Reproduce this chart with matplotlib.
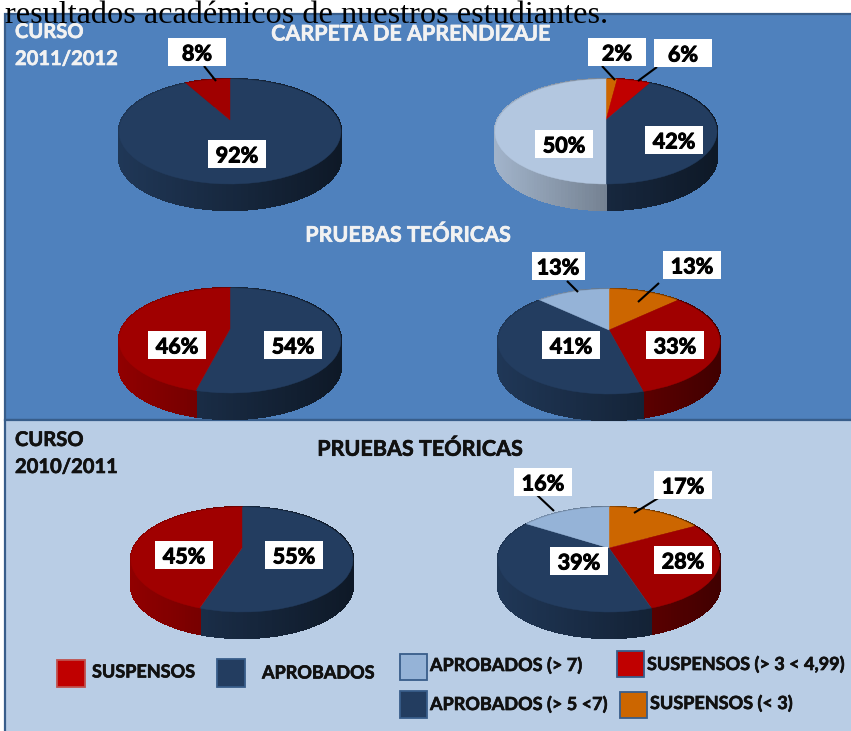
import numpy as np
import matplotlib
matplotlib.use("Agg")
import matplotlib.pyplot as plt
import matplotlib.patheffects as pe
from matplotlib.collections import PolyCollection
from matplotlib.colors import to_rgb
from matplotlib.patches import Rectangle
from matplotlib.transforms import Transform

# ---- data ----
p1_values = [92, 8]
p1_keys = ["navy", "red_dark"]
p2_values = [2, 6, 42, 50]
p2_keys = ["orange", "red", "navy", "pale"]
p3_values = [54, 46]
p3_keys = ["navy", "red_dark"]
p4_values = [13, 33, 41, 13]
p4_keys = ["orange", "red_dark", "navy", "light"]
p5_values = [55, 45]
p5_keys = ["navy", "red_dark"]
p6_values = [17, 28, 39, 16]
p6_keys = ["orange", "red_dark", "navy", "light"]

# ---- style / layout ----
COL = {"navy": "#233d60", "red_dark": "#a00000", "red": "#c00000",
       "orange": "#cc6600", "pale": "#b3c7e0", "light": "#95b3d7"}
FONT = "Lato"
W, H = 851, 731
RX, TOP, BOTTOM, DEPTH = 111.0, 41.0, 64.0, 26.0
K = (BOTTOM - TOP) / (BOTTOM + TOP)
B = TOP * (1 + K)
A = RX * np.sqrt(1 - K ** 2)


class Tilt(Transform):
    """Unit-circle pie -> tilted disc seen in perspective, in pixel coordinates."""
    input_dims = output_dims = 2

    def __init__(self, cx, cy):
        super().__init__()
        self.cx, self.cy = cx, cy

    def transform_non_affine(self, xy):
        xy = np.asarray(xy, float)
        w = 1 + K * xy[:, 1]
        return np.column_stack((self.cx + A * xy[:, 0] / w, self.cy - B * xy[:, 1] / w))


fig = plt.figure(figsize=(W / 100, H / 100), dpi=100, facecolor="white")
ax = fig.add_axes([0, 0, 1, 1])


def draw_pie(values, keys, cx, cy):
    colors = [COL[k] for k in keys]
    wedges, _ = ax.pie(values, colors=colors, startangle=90, counterclock=False, radius=1)
    tilt = Tilt(cx, cy)
    edges = np.cumsum([0] + list(values)) / sum(values) * 2 * np.pi
    polys, faces = [], []
    for i, key in enumerate(keys):
        n = max(3, int((edges[i + 1] - edges[i]) / np.radians(1.5)))
        ang = np.linspace(edges[i], edges[i + 1], n + 1)
        rim = tilt.transform_non_affine(np.column_stack((np.sin(ang), np.cos(ang))))
        base = np.asarray(to_rgb(COL[key]))
        for j in range(n):
            a, b = rim[j], rim[j + 1]
            polys.append([a, b, b + [0, DEPTH], a + [0, DEPTH]])
            t = (0.5 * (a[0] + b[0]) - cx + RX) / (2 * RX)
            faces.append(np.clip(base * (0.9 - 0.5 * t), 0, 1))
    ax.add_collection(PolyCollection(polys, facecolors=faces, edgecolors=faces,
                                     linewidths=1.0, antialiaseds=False, zorder=2))
    for wedge, c in zip(wedges, colors):
        wedge.set_transform(tilt + ax.transData)
        wedge.set(zorder=3, edgecolor=c, linewidth=0.3)


def heavy(color, width=0.45):
    return [pe.withStroke(linewidth=width, foreground=color)]


def tag(text, x, y, w=58, h=28):
    ax.add_patch(Rectangle((x - w / 2, y - h / 2), w, h, fc="white", ec="none", zorder=5))
    ax.text(x, y, text, ha="center", va="center_baseline", fontsize=15.5,
            fontweight="bold", family=FONT, color="black", zorder=6,
            path_effects=heavy("black", 0.7))


def leader(x0, y0, x1, y1):
    ax.plot([x0, x1], [y0, y1], color="black", lw=1.5, zorder=4, solid_capstyle="butt")


# panels
ax.add_patch(Rectangle((5, 14), W, 406, fc="#4f81bd", ec="#385d8a", lw=1.6, zorder=1))
ax.add_patch(Rectangle((5, 420), W, 320, fc="#b9cde5", ec="#385d8a", lw=1.6, zorder=1))

# pies
draw_pie(p1_values, p1_keys, 230, 120)
draw_pie(p2_values, p2_keys, 606, 120)
draw_pie(p3_values, p3_keys, 230, 329)
draw_pie(p4_values, p4_keys, 609, 330)
draw_pie(p5_values, p5_keys, 242, 548)
draw_pie(p6_values, p6_keys, 609, 548)

# leaders
leader(204, 66, 216, 81)
leader(602, 66, 615, 80)
leader(657, 67, 638, 81)
leader(567, 281, 578, 292)
leader(659, 283, 638, 302)
leader(537, 495, 554, 511)
leader(660, 497, 634, 513)

# value tags
tag(f"{p1_values[1]}%", 197, 52)
tag(f"{p1_values[0]}%", 237, 154)
tag(f"{p2_values[0]}%", 617, 52)
tag(f"{p2_values[1]}%", 683, 53)
tag(f"{p2_values[2]}%", 674, 140)
tag(f"{p2_values[3]}%", 564, 144)
tag(f"{p3_values[1]}%", 177, 345)
tag(f"{p3_values[0]}%", 293, 345)
tag(f"{p4_values[3]}%", 558, 266, w=53)
tag(f"{p4_values[0]}%", 692, 265)
tag(f"{p4_values[2]}%", 571, 345)
tag(f"{p4_values[1]}%", 675, 345)
tag(f"{p5_values[1]}%", 184, 555)
tag(f"{p5_values[0]}%", 294, 555)
tag(f"{p6_values[3]}%", 543, 482)
tag(f"{p6_values[0]}%", 683, 485)
tag(f"{p6_values[2]}%", 579, 561)
tag(f"{p6_values[1]}%", 683, 560)


def label(x, y, s, color="#f2f2f2", size=14.5, ha="left"):
    ax.text(x, y, s, ha=ha, va="center", fontsize=size, fontweight="bold",
            family=FONT, color=color, zorder=6, path_effects=heavy(color))


# headings
label(15, 32, "CURSO")
label(15, 59, "2011/2012")
label(411, 34, "CARPETA DE APRENDIZAJE", ha="center", size=15.5)
label(408, 235, "PRUEBAS TEÓRICAS", ha="center", size=15.5)
label(420, 449, "PRUEBAS TEÓRICAS", color="#111111", ha="center", size=15.5)
label(15, 440, "CURSO", color="#111111")
label(15, 467, "2010/2011", color="#111111")

# legend
leg_swatches = [
    (57, 660, 28, 27, COL["red"], "#c0504d"),
    (217, 659, 28, 28, COL["navy"], "#385d8a"),
    (400, 654, 27, 26, COL["light"], "#385d8a"),
    (617, 651, 27, 26, COL["red"], "#385d8a"),
    (400, 691, 27, 27, COL["navy"], "#385d8a"),
    (620, 692, 27, 26, COL["orange"], "#385d8a"),
]
for x, y, w, h, fc, ec in leg_swatches:
    ax.add_patch(Rectangle((x, y), w, h, fc=fc, ec=ec, lw=1.3, zorder=3))
for x, y, s in [(92, 672, "SUSPENSOS"), (262, 673, "APROBADOS"),
                (430, 665, "APROBADOS (> 7)"), (647, 664, "SUSPENSOS (> 3 < 4,99)"),
                (430, 704, "APROBADOS (> 5 <7)"), (650, 703, "SUSPENSOS (< 3)")]:
    label(x, y, s, color="#111111", size=13)

# overlaid body text
ax.text(5, 23, "resultados académicos de nuestros estudiantes.", family="Liberation Serif",
        fontsize=23.2, color="black", ha="left", va="baseline", zorder=7)

ax.set_aspect("auto")
ax.set_xlim(0, W)
ax.set_ylim(H, 0)
ax.axis("off")
fig.savefig("out.png", dpi=100)
